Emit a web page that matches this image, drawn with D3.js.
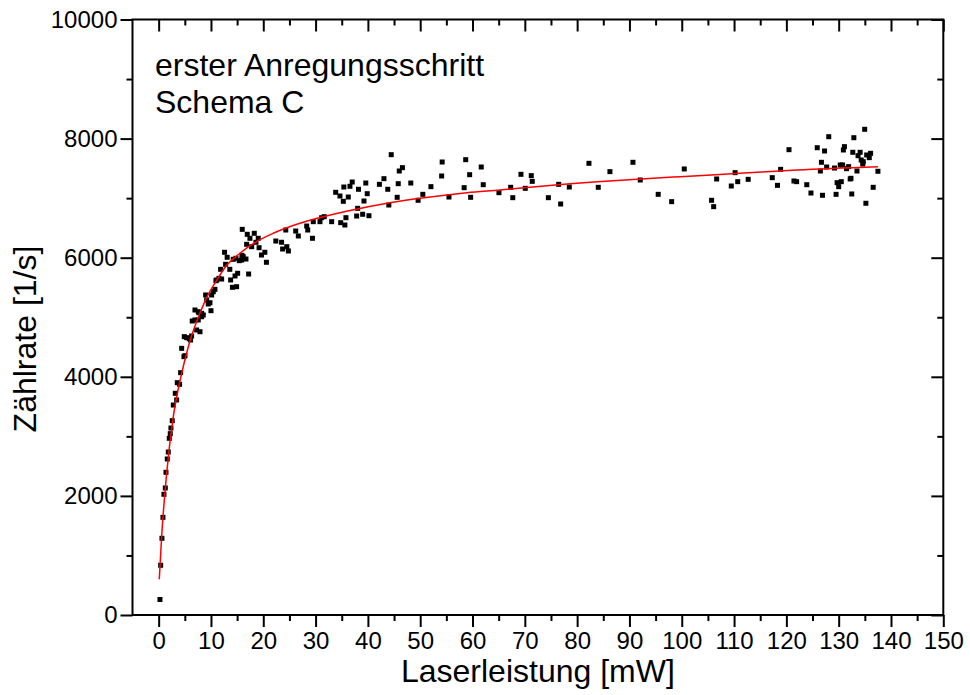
<!DOCTYPE html>
<html>
<head>
<meta charset="utf-8">
<script src="https://cdn.jsdelivr.net/npm/d3@7"></script>
<style>
  body { margin: 0; background: #fff; }
  text { font-family: "Liberation Sans", Arial, sans-serif; fill: #000; }
</style>
</head>
<body>
<svg id="chart" width="970" height="695"></svg>
<script>
// Measured count rate versus laser power
const laserPower = [
  0.25, 0.38, 0.63, 0.82, 1.01, 1.27, 1.40, 1.65, 1.84, 2.03, 2.22, 2.35, 2.60, 2.80, 3.44, 3.18,
  3.56, 4.0, 4.2, 4.84, 5.03, 4.4, 6.1,
  4.9, 5.35, 5.85, 6.3, 7.26, 7.9, 6.42, 6.94, 7.57, 8.22, 8.53, 7.70, 6.94, 7.57, 8.22, 10.0,
  9.48, 9.81, 9.18, 8.98, 10.13, 10.44, 10.76, 11.09, 11.53, 12.04, 10.95, 11.85, 12.8, 12.6,
  13.1, 13.6, 13.76, 14.1, 14.9, 14.6, 15.1, 14.26, 14.78, 15.41, 15.87, 16.17, 16.69, 15.92,
  17.2, 15.98, 16.94, 17.45, 18.28, 19.04, 16.82, 17.78, 18.6, 19.2, 20.3, 19.65, 20.6, 24.3,
  22.4, 23.5, 24.5, 23.7, 24.8, 26.2, 26.7,
  28.3, 28.5, 29.4, 29.56, 30.84, 31.16, 31.66, 33.07, 34.8, 35.6, 35.8, 37.85, 39.0, 40.2,
  38.04, 39.25, 33.84, 34.66, 35.3, 36.25, 35.4, 36.57, 37.0, 38.2, 39.6, 39.87, 42.2, 43.07,
  43.8, 44.0, 44.46, 45.6, 45.8, 46.0, 46.6, 48.2, 49.6, 50.5, 52.05, 54.1, 54.2, 55.5, 58.4,
  58.7, 59.45, 59.64, 61.67, 62.05, 65.05,
  67.3, 67.7, 69.26, 70.08, 71.23, 71.42, 74.5, 76.47, 76.85, 78.5, 82.26, 84.04, 86.27, 90.67,
  92.07, 95.5, 98.07, 100.48, 105.7, 106.1, 106.67, 109.47, 110.2, 110.7,
  112.7, 117.3, 118.3, 118.9, 120.5, 121.45, 121.96, 123.9, 124.7, 125.9, 126.7, 126.5, 126.9,
  127.3, 127.7, 128.1, 129.2, 129.5, 129.7, 130.0, 130.5, 130.3, 130.75, 130.9, 131.1, 131.5,
  131.9, 132.2, 132.35, 132.5, 132.7, 132.9, 133.5, 133.7, 134.1, 134.3, 134.6, 134.7, 134.97,
  135.2, 135.35, 135.85, 136.1, 136.6, 137.5
];
const countRate = [
  260, 835, 1288, 1640, 2027, 2133, 2396, 2620, 2737, 2967, 3045, 3140, 3263, 3526, 3611, 3723,
  3901, 3874, 4069, 4338, 4355, 4478, 4618,
  4674, 4657, 4640, 4685, 4786, 4757, 4937, 4954, 4954, 5009, 5038, 5076, 5122, 5093, 5066, 5110,
  5223, 5244, 5290, 5374, 5374, 5429, 5469, 5626, 5654, 5642, 5614, 5805, 5889, 6091,
  6007, 5805, 5626, 5503, 5513, 5693, 5738, 5973, 5990, 5950, 5961, 6017, 5978, 6040,
  5726, 6476, 6393, 6326, 6410, 6326, 6225, 6185, 6259, 6168, 6091, 6045, 5923, 6465,
  6280, 6259, 6185, 6146, 6113, 6448, 6365,
  6532, 6465, 6326, 6605, 6605, 6672, 6689, 6605, 6588, 6549, 6672, 6700, 6729, 6705,
  6829, 6952, 7098, 7036, 6947, 7019, 7187, 7199, 7271, 7149, 7254, 7075, 7232, 7327,
  7149, 6885, 7730, 7014, 7243, 7456, 7512, 7254, 6964, 7064, 7193, 7372, 7607, 7019, 7176,
  7646, 7394, 7014, 7523, 7226, 7092,
  7182, 7008, 7400, 7165, 7378, 7282, 7008, 7232, 6902, 7187, 7585, 7182, 7445, 7602,
  7305, 7064, 6941, 7490, 6964, 6857, 7322, 7204, 7428, 7277,
  7316, 7344, 7215, 7484, 7814, 7288, 7277, 7226, 7086, 7847, 7602, 7456, 7048,
  7792, 7523, 8032, 7506, 7064, 7260, 7193, 7277, 7557, 7557, 7809, 7865, 7495,
  7529, 7322, 7333, 7070, 7770, 8015, 7456, 7713, 7770, 7641, 7573, 7612, 8156,
  6914, 7725, 7680, 7753, 7182, 7451
];

// Saturation fit curve
const fitPower = [0.12, 0.57, 1.53, 2.8, 4.4, 5.98, 7.9, 9.18, 11.09, 12.9, 15.54, 18.7, 21.9,
  27, 29.6, 35.9, 44.2, 51.9, 58.9, 65.2, 74.2, 86.9, 99.7, 111.1, 122, 137.5];
const fitRate = [600, 1315, 2380, 3330, 4058, 4600, 5070, 5330, 5620, 5860, 6075, 6269, 6410,
  6578, 6645, 6780, 6924, 7020, 7090, 7137, 7210, 7293, 7361, 7417, 7473, 7528];

const xTickLabels = ["0","10","20","30","40","50","60","70","80","90","100","110","120","130","140","150"];
const yTickLabels = ["0","2000","4000","6000","8000","10000"];
const titleLines = ["erster Anregungsschritt", "Schema C"];

const svg = d3.select("#chart");
const plotLeft = 132.5, plotRight = 943.3, plotTop = 19.5, plotBottom = 615;

const x = d3.scaleLinear().domain([-5, 150]).range([plotLeft, plotRight]);
const y = d3.scaleLinear().domain([0, 10000]).range([plotBottom, plotTop]);

const xMajor = xTickLabels.map(Number);
const xMinor = d3.range(5, 150, 10);
const yMajor = yTickLabels.map(Number);
const yMinor = d3.range(1000, 10000, 2000);

function styleAxis(g) {
  g.select(".domain").remove();
  g.selectAll("line").attr("stroke", "#000").attr("stroke-width", 2);
  g.selectAll("text").attr("font-size", 24).attr("fill", "#000")
    .style("font-family", '"Liberation Sans", Arial, sans-serif');
}

// bottom: outward ticks with labels
svg.append("g").attr("transform", `translate(0,${plotBottom})`)
  .call(d3.axisBottom(x).tickValues(xMajor).tickSize(12).tickPadding(5).tickFormat((d, i) => xTickLabels[i]))
  .call(styleAxis);
svg.append("g").attr("transform", `translate(0,${plotBottom})`)
  .call(d3.axisBottom(x).tickValues(xMinor).tickSize(6).tickFormat(""))
  .call(styleAxis);
// top: inward ticks
svg.append("g").attr("transform", `translate(0,${plotTop})`)
  .call(d3.axisBottom(x).tickValues(xMajor).tickSize(12).tickFormat(""))
  .call(styleAxis);
svg.append("g").attr("transform", `translate(0,${plotTop})`)
  .call(d3.axisBottom(x).tickValues(xMinor).tickSize(6).tickFormat(""))
  .call(styleAxis);
// left: outward ticks with labels
svg.append("g").attr("transform", `translate(${plotLeft},0)`)
  .call(d3.axisLeft(y).tickValues(yMajor).tickSize(12).tickPadding(3).tickFormat((d, i) => yTickLabels[i]))
  .call(styleAxis);
svg.append("g").attr("transform", `translate(${plotLeft},0)`)
  .call(d3.axisLeft(y).tickValues(yMinor).tickSize(6).tickFormat(""))
  .call(styleAxis);
// right: inward ticks
svg.append("g").attr("transform", `translate(${plotRight},0)`)
  .call(d3.axisLeft(y).tickValues(yMajor).tickSize(12).tickFormat(""))
  .call(styleAxis);
svg.append("g").attr("transform", `translate(${plotRight},0)`)
  .call(d3.axisLeft(y).tickValues(yMinor).tickSize(6).tickFormat(""))
  .call(styleAxis);

// frame
svg.append("rect")
  .attr("x", plotLeft).attr("y", plotTop)
  .attr("width", plotRight - plotLeft).attr("height", plotBottom - plotTop)
  .attr("fill", "none").attr("stroke", "#000").attr("stroke-width", 2);

// measured points
const points = laserPower.map((p, i) => ({ p, r: countRate[i] }));
svg.append("g").selectAll("rect").data(points).join("rect")
  .attr("x", d => x(d.p) - 2.5).attr("y", d => y(d.r) - 2.5)
  .attr("width", 5).attr("height", 5).attr("fill", "#000");

// fit curve
const fit = fitPower.map((p, i) => [p, fitRate[i]]);
svg.append("path").datum(fit)
  .attr("fill", "none").attr("stroke", "#ff0000").attr("stroke-width", 1.5)
  .attr("d", d3.line().x(d => x(d[0])).y(d => y(d[1])).curve(d3.curveMonotoneX));

// annotation
svg.append("g").selectAll("text").data(titleLines).join("text")
  .attr("x", 155).attr("y", (d, i) => 76 + i * 37)
  .attr("font-size", 32).text(d => d);

// axis titles
svg.append("text")
  .attr("x", (plotLeft + plotRight) / 2).attr("y", 682)
  .attr("text-anchor", "middle").attr("font-size", 32)
  .text("Laserleistung [mW]");
svg.append("text")
  .attr("transform", "translate(36,339) rotate(-90)")
  .attr("text-anchor", "middle").attr("font-size", 32)
  .text("Zählrate [1/s]");
</script>
</body>
</html>
